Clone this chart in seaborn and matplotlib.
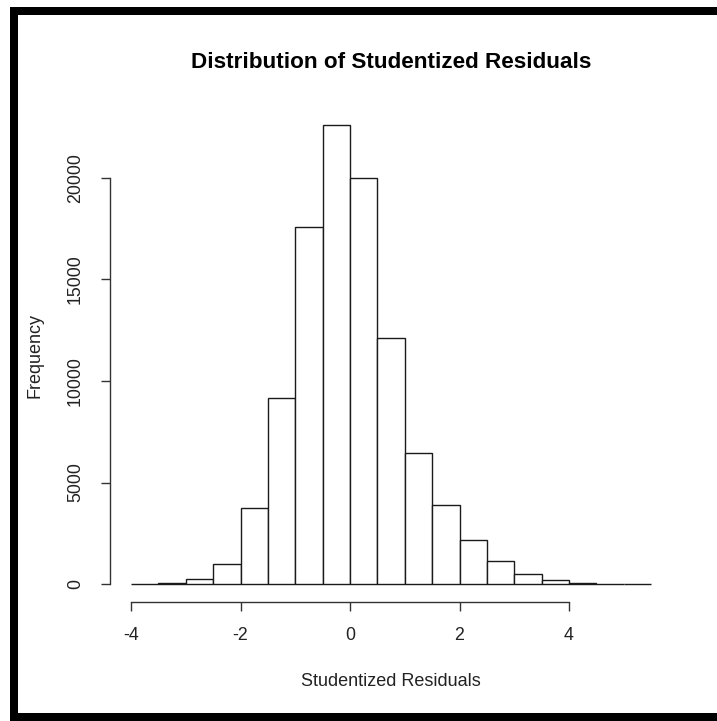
import numpy as np
import pandas as pd
import matplotlib
matplotlib.use("Agg")
import matplotlib.pyplot as plt
from matplotlib.patches import Rectangle
import seaborn as sns

# Histogram bins (width 0.5) and their counts
bin_edges = [-4.0, -3.5, -3.0, -2.5, -2.0, -1.5, -1.0, -0.5, 0.0, 0.5, 1.0,
             1.5, 2.0, 2.5, 3.0, 3.5, 4.0, 4.5, 5.0, 5.5]
counts = [5, 45, 230, 970, 3730, 9180, 17600, 22610, 19990, 12120, 6470,
          3890, 2190, 1150, 510, 220, 50, 10, 2]
x_ticks = [-4, -2, 0, 2, 4]
y_ticks = [0, 5000, 10000, 15000, 20000]

title = "Distribution of Studentized Residuals"
x_label = "Studentized Residuals"
y_label = "Frequency"

sns.set_style("white")
plt.rcParams["font.family"] = ["Liberation Sans", "DejaVu Sans"]

W, H = 717, 721
fig = plt.figure(figsize=(W / 100, H / 100), dpi=100)
fig.patch.set_facecolor("white")

# plot region in pixels (left, top, right, bottom)
L, T, R, B = 110.2, 106.6, 672.0, 602.4
ax = fig.add_axes([L / W, 1 - B / H, (R - L) / W, (B - T) / H])

centers = [(a + b) / 2 for a, b in zip(bin_edges[:-1], bin_edges[1:])]
df = pd.DataFrame({"resid": centers, "n": counts})
sns.histplot(data=df, x="resid", weights="n", bins=bin_edges, ax=ax,
             color="white", edgecolor="#1a1a1a", linewidth=1.0, alpha=1.0)

xr = bin_edges[-1] - bin_edges[0]
ax.set_xlim(bin_edges[0] - 0.04 * xr, bin_edges[-1] + 0.04 * xr)
ym = max(counts)
ax.set_ylim(-0.04 * ym, 1.04 * ym)

for s in ["top", "right"]:
    ax.spines[s].set_visible(False)
for s in ["bottom", "left"]:
    ax.spines[s].set_color("#333333")
    ax.spines[s].set_linewidth(1.0)
ax.spines["bottom"].set_bounds(x_ticks[0], x_ticks[-1])
ax.spines["left"].set_bounds(y_ticks[0], y_ticks[-1])

ax.set_xticks(x_ticks)
ax.set_xticklabels([str(v) for v in x_ticks])
ax.set_yticks(y_ticks)
ax.set_yticklabels([str(v) for v in y_ticks], rotation=90, va="center")
ax.tick_params(axis="both", direction="out", length=6.5, width=1.0,
               color="#333333", labelsize=12.8, labelcolor="#222222")
ax.tick_params(axis="x", pad=11, bottom=True)
ax.tick_params(axis="y", pad=12.5, left=True)
ax.set_xlabel("")
ax.set_ylabel("")

fig.text(391 / W, 1 - 682 / H, x_label, fontsize=13, color="#222222",
         ha="center", va="center")
fig.text(35 / W, 1 - 355 / H, y_label, fontsize=13,
         color="#222222", ha="center", va="center", rotation=90)
fig.text(391 / W, 1 - 62 / H, title, fontsize=16.2, fontweight="bold",
         color="black", ha="center", va="center")

# black frame on the top, left and bottom edges
def frame(x0, y0, x1, y1):
    fig.patches.append(Rectangle((x0 / W, 1 - y1 / H), (x1 - x0) / W,
                                 (y1 - y0) / H, transform=fig.transFigure,
                                 facecolor="black", edgecolor="none",
                                 zorder=10))

frame(10, 7, W, 15)
frame(10, 7, 18, H)
frame(10, 713, W, H)

fig.savefig("out.png", dpi=100, facecolor="white")
